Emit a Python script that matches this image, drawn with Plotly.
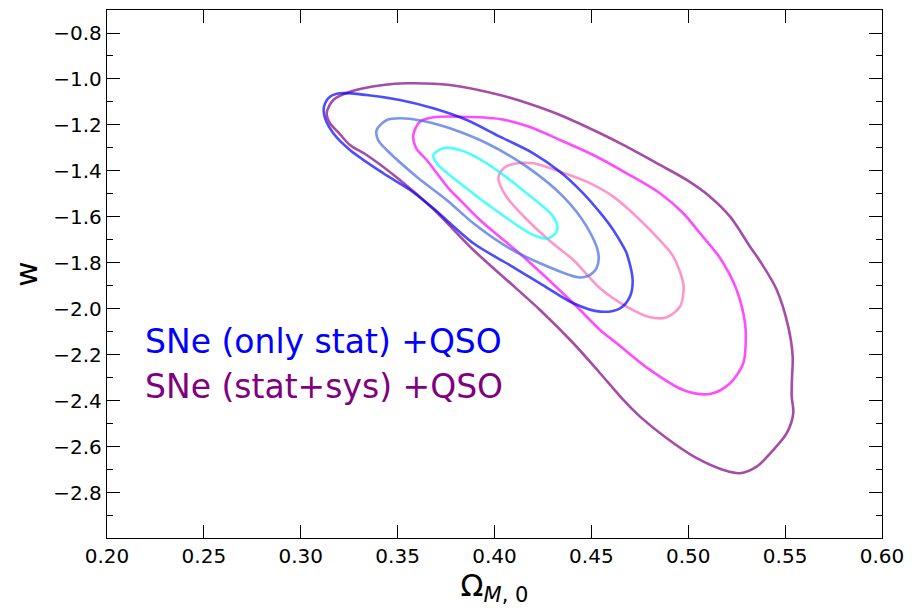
import plotly.graph_objects as go

# ---- contour data (Omega_M0, w) ----
stat_1s_x = [0.3684, 0.3736, 0.3822, 0.3960, 0.4166, 0.4303, 0.4324, 0.4278, 0.4200, 0.4028, 0.3822, 0.3702]
stat_1s_y = [-1.3304, -1.3013, -1.3087, -1.3665, -1.4970, -1.5987, -1.6565, -1.6926, -1.6783, -1.5839, -1.4535, -1.3665]

stat_2s_x = [0.3392, 0.3444, 0.3512, 0.3650, 0.3770, 0.3960, 0.4166, 0.4355, 0.4476, 0.4536, 0.4527, 0.4483,
             0.4431, 0.4235, 0.4063, 0.3891, 0.3753, 0.3598, 0.3444, 0.3399]
stat_2s_y = [-1.2217, -1.1783, -1.1709, -1.1857, -1.2143, -1.2796, -1.3813, -1.5117, -1.6422, -1.7578, -1.8217, -1.8565,
             -1.8622, -1.8013, -1.7291, -1.6274, -1.5261, -1.4248, -1.3087, -1.2652]

stat_3s_x = [0.3120, 0.3151, 0.3203, 0.3340, 0.3512, 0.3684, 0.3857, 0.4028, 0.4200, 0.4338, 0.4458, 0.4562, 0.4613,
             0.4665, 0.4682, 0.4713, 0.4699, 0.4648, 0.4545, 0.4407, 0.4235, 0.4063, 0.3891, 0.3684, 0.3564, 0.3426,
             0.3254, 0.3168, 0.3125]
stat_3s_y = [-1.1204, -1.0770, -1.0622, -1.0696, -1.0913, -1.1274, -1.1783, -1.2509, -1.3230, -1.4030, -1.4970, -1.5987,
             -1.6565, -1.7291, -1.7578, -1.8739, -1.9465, -1.9970, -2.0117, -1.9752, -1.8883, -1.8013, -1.7143, -1.5622,
             -1.4826, -1.4100, -1.3087, -1.2361, -1.1696]

sys_1s_x = [0.4020, 0.4049, 0.4097, 0.4200, 0.4338, 0.4476, 0.4613, 0.4751, 0.4854, 0.4923, 0.4974, 0.4973, 0.4957,
            0.4889, 0.4803, 0.4682, 0.4545, 0.4407, 0.4286, 0.4149, 0.4059]
sys_1s_y = [-1.4304, -1.3870, -1.3696, -1.3665, -1.4030, -1.4465, -1.5117, -1.6130, -1.7022, -1.7726, -1.8883, -1.9435,
            -1.9900, -2.0361, -2.0361, -1.9900, -1.9100, -1.7870, -1.7043, -1.5957, -1.5087]

sys_2s_x = [0.3581, 0.3615, 0.3684, 0.3822, 0.4028, 0.4183, 0.4338, 0.4510, 0.4682, 0.4854, 0.4974, 0.5061, 0.5164,
            0.5250, 0.5293, 0.5296, 0.5284, 0.5216, 0.5112, 0.4974, 0.4803, 0.4631, 0.4545, 0.4407, 0.4149, 0.3925,
            0.3822, 0.3770, 0.3650, 0.3595]
sys_2s_y = [-1.2435, -1.1857, -1.1665, -1.1639, -1.1739, -1.2087, -1.2652, -1.3304, -1.4100, -1.4970, -1.5839, -1.6709,
            -1.7783, -1.9174, -2.0622, -2.1565, -2.2361, -2.3230, -2.3696, -2.3522, -2.2652, -2.1491, -2.0913, -1.9752,
            -1.7726, -1.6130, -1.5261, -1.4826, -1.3522, -1.3000]

sys_3s_x = [0.3134, 0.3168, 0.3254, 0.3426, 0.3547, 0.3770, 0.4028, 0.4183, 0.4338, 0.4545, 0.4682, 0.4854, 0.4992,
            0.5112, 0.5216, 0.5319, 0.5370, 0.5457, 0.5516, 0.5539, 0.5535, 0.5534, 0.5542, 0.5508, 0.5439, 0.5353,
            0.5267, 0.5181, 0.5044, 0.4889, 0.4751, 0.4665, 0.4545, 0.4407, 0.4235, 0.4063, 0.3891, 0.3684, 0.3512,
            0.3340, 0.3254, 0.3192, 0.3151]
sys_3s_y = [-1.1490, -1.0913, -1.0552, -1.0261, -1.0187, -1.0261, -1.0696, -1.1087, -1.1565, -1.2361, -1.2943, -1.3739,
            -1.4391, -1.5117, -1.5987, -1.7291, -1.7913, -1.9174, -2.0770, -2.2074, -2.3087, -2.3813, -2.4535, -2.5404,
            -2.6130, -2.6857, -2.7143, -2.7000, -2.6491, -2.5622, -2.4683, -2.3957, -2.2796, -2.1491, -2.0043, -1.8739,
            -1.7435, -1.5652, -1.4391, -1.3304, -1.2870, -1.2304, -1.1926]

contours = [
    (sys_3s_x, sys_3s_y, "rgba(128,0,128,0.7)"),
    (sys_2s_x, sys_2s_y, "rgba(255,0,255,0.7)"),
    (sys_1s_x, sys_1s_y, "rgba(255,105,180,0.7)"),
    (stat_3s_x, stat_3s_y, "rgba(0,0,255,0.7)"),
    (stat_2s_x, stat_2s_y, "rgba(65,105,225,0.7)"),
    (stat_1s_x, stat_1s_y, "rgba(0,255,255,0.7)"),
]

legend_labels = ["SNe (only stat) +QSO", "SNe (stat+sys) +QSO"]
legend_colors = ["#0000ff", "#800080"]

FONT = "DejaVu Sans"

fig = go.Figure()
for xs, ys, col in contours:
    fig.add_trace(go.Scatter(
        x=xs + xs[:1], y=ys + ys[:1], mode="lines",
        line=dict(color=col, width=2.6, shape="spline", smoothing=0.9),
        hoverinfo="skip", showlegend=False,
    ))

for i, (lab, col) in enumerate(zip(legend_labels, legend_colors)):
    fig.add_annotation(
        xref="paper", yref="paper", x=0.047, y=0.372 - i * 0.086,
        xanchor="left", yanchor="middle", showarrow=False,
        text=lab, font=dict(family=FONT, size=33, color=col),
    )

axis_common = dict(
    showline=True, linecolor="black", linewidth=1.3, mirror="allticks",
    ticks="inside", ticklen=13, tickwidth=1.3, tickcolor="black",
    showgrid=False, zeroline=False,
    tickfont=dict(family=FONT, size=20, color="black"),
)

fig.update_xaxes(
    range=[0.2, 0.6], tick0=0.2, dtick=0.05, tickformat=".2f",
    title=dict(text="Ω<sub><i>M</i>, 0</sub>", font=dict(family=FONT, size=30, color="black"), standoff=4),
    **axis_common,
)
fig.update_yaxes(
    range=[-2.996, -0.7], tick0=-0.8, dtick=0.2, tickformat=".1f",
    minor=dict(ticks="inside", ticklen=6, tickwidth=1.3, tickcolor="black", dtick=0.1, tick0=-0.8, showgrid=False),
    title=dict(text="w", font=dict(family=FONT, size=31, color="black"), standoff=12),
    **axis_common,
)

# the page body adds an 8px margin, so the figure is sized to fill the rest
fig.update_layout(
    width=909, height=606,
    margin=dict(l=99, r=35, t=2, b=76),
    paper_bgcolor="white", plot_bgcolor="white",
    font=dict(family=FONT, color="black"),
)

fig.write_html("out.html")
